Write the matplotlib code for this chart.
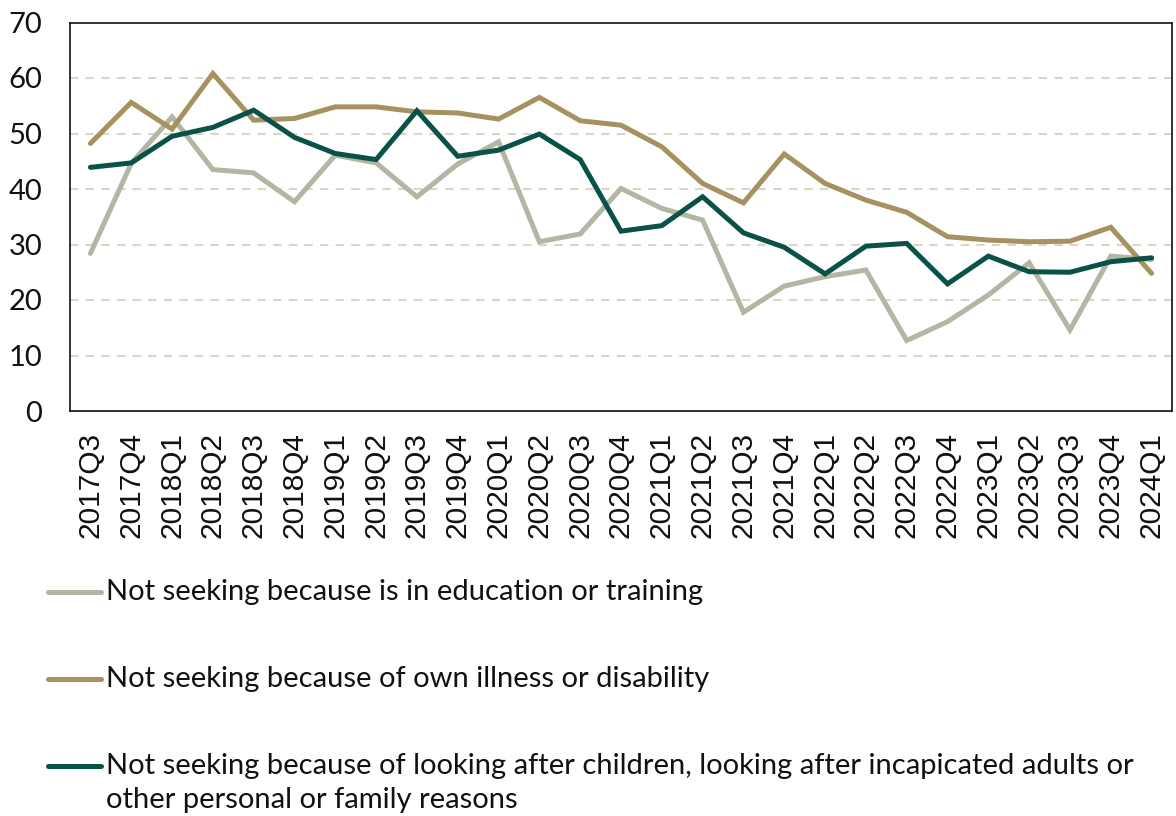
import matplotlib
matplotlib.use("Agg")
import matplotlib.pyplot as plt
from matplotlib.lines import Line2D

plt.rcParams['font.family'] = ['Lato', 'DejaVu Sans']

quarters = ["2017Q3", "2017Q4", "2018Q1", "2018Q2", "2018Q3", "2018Q4",
            "2019Q1", "2019Q2", "2019Q3", "2019Q4", "2020Q1", "2020Q2",
            "2020Q3", "2020Q4", "2021Q1", "2021Q2", "2021Q3", "2021Q4",
            "2022Q1", "2022Q2", "2022Q3", "2022Q4", "2023Q1", "2023Q2",
            "2023Q3", "2023Q4", "2024Q1"]

education = [28.4, 44.6, 53.0, 43.5, 42.9, 37.7, 46.1, 44.7, 38.6, 44.5,
             48.5, 30.5, 31.9, 40.1, 36.5, 34.4, 17.8, 22.5, 24.2, 25.4,
             12.7, 16.1, 20.9, 26.7, 14.6, 27.9, 27.3]
illness = [48.2, 55.6, 50.8, 60.8, 52.4, 52.7, 54.8, 54.8, 53.9, 53.7,
           52.6, 56.5, 52.3, 51.5, 47.6, 41.0, 37.5, 46.3, 41.0, 38.0,
           35.8, 31.4, 30.8, 30.5, 30.6, 33.1, 24.8]
family = [43.9, 44.7, 49.5, 51.1, 54.2, 49.3, 46.4, 45.3, 54.1, 45.9,
          47.0, 49.9, 45.3, 32.4, 33.4, 38.6, 32.1, 29.5, 24.7, 29.7,
          30.2, 22.9, 27.9, 25.1, 25.0, 26.9, 27.6]

labels = ["Not seeking because is in education or training",
          "Not seeking because of own illness or disability",
          "Not seeking because of looking after children, looking after incapicated adults or\nother personal or family reasons"]
colors = ["#B3B6A3", "#A69260", "#0A5248"]
yticks = [0, 10, 20, 30, 40, 50, 60, 70]

fig = plt.figure(figsize=(11.76, 8.16), dpi=100)
ax = fig.add_axes([70/1176, 1-411/816, 1102/1176, (411-22.5)/816])

x = list(range(len(quarters)))
for data, col in zip([education, illness, family], colors):
    ax.plot(x, data, color=col, lw=3.6, solid_joinstyle='miter', solid_capstyle='round')

ax.set_xlim(-0.5, len(quarters) - 0.5)
ax.set_ylim(0, 70)
ax.set_yticks(yticks)
ax.set_yticklabels([str(v) for v in yticks], fontsize=21)
ax.set_xticks(x)
ax.set_xticklabels(quarters, rotation=90, fontsize=21.5,
                   family=['Liberation Sans', 'DejaVu Sans'])
ax.tick_params(axis='y', length=0, pad=20, colors='#111111')
ax.tick_params(axis='x', length=0, pad=15, colors='#111111')
for v in yticks[1:-1]:
    ax.axhline(v, color='#DAD5C5', lw=1.5, ls=(0, (4, 3.5)), zorder=0)
for s in ax.spines.values():
    s.set_color('#111111')
    s.set_linewidth(1.2)

# legend
leg_y = [592, 679, 766]
for yy, col, lab in zip(leg_y, colors, labels):
    fy = 1 - yy/816
    fig.add_artist(Line2D([48/1176, 101/1176], [fy, fy], color=col, lw=3.6,
                          solid_capstyle='round', transform=fig.transFigure))
    lines = lab.split('\n')
    for i, t in enumerate(lines):
        fig.text(106/1176, fy - i*34/816, t, fontsize=21, va='center',
                 ha='left', color='#111111')

fig.savefig("out.png", dpi=100)
